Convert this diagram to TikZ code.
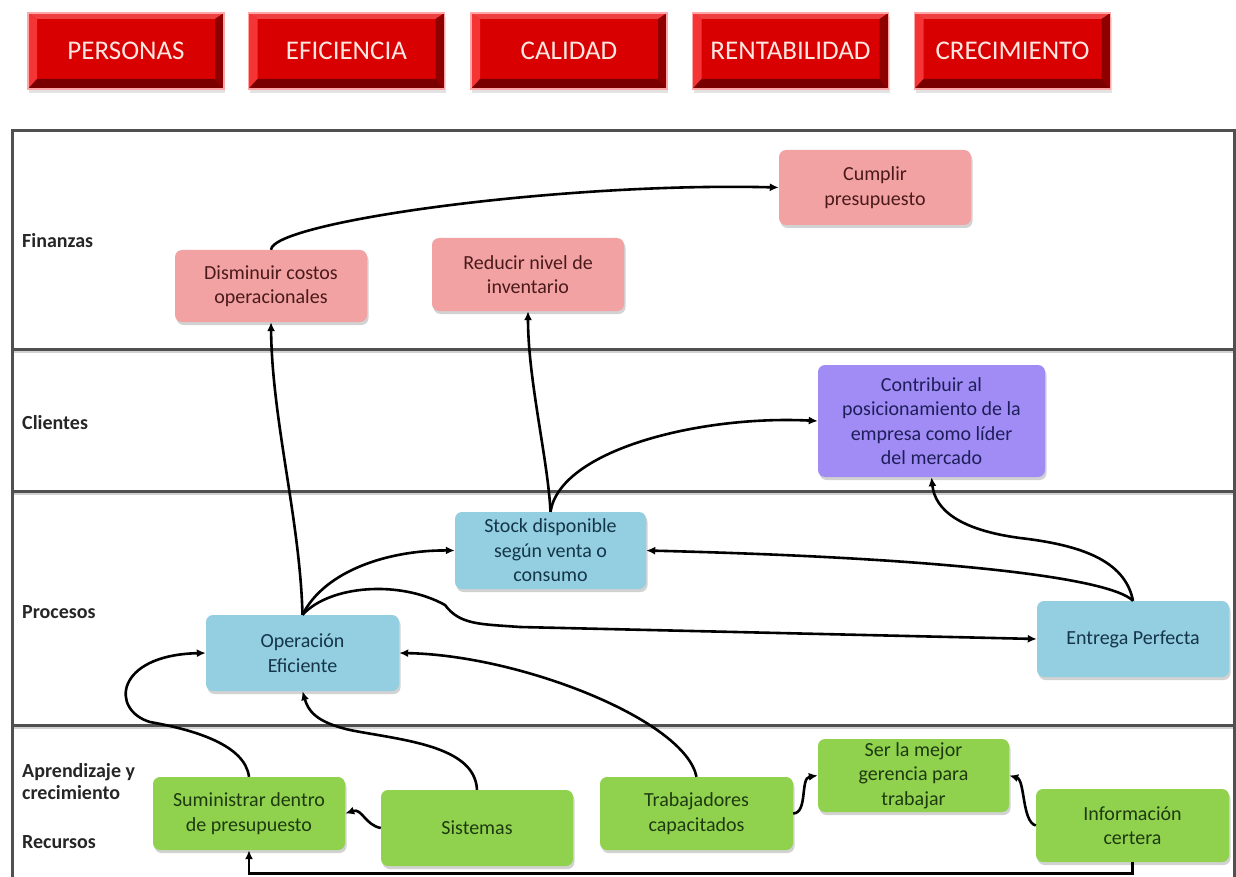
\documentclass[tikz,border=0pt]{standalone}
\usepackage{fontspec}
\setmainfont{Carlito}
\usetikzlibrary{arrows.meta,shadows,calc}

\definecolor{btnface}{HTML}{D80000}
\definecolor{btnlight}{HTML}{F53535}
\definecolor{btntop}{HTML}{EE4040}
\definecolor{btndark}{HTML}{7A0000}
\definecolor{btnright}{HTML}{8E0000}
\definecolor{btntext}{HTML}{FFE6E0}
\definecolor{finfill}{HTML}{F2A2A2}
\definecolor{fintext}{HTML}{4A1A1A}
\definecolor{clifill}{HTML}{A08CF4}
\definecolor{clitext}{HTML}{1E1E5A}
\definecolor{profill}{HTML}{93CFE1}
\definecolor{protext}{HTML}{153549}
\definecolor{apfill}{HTML}{90D24E}
\definecolor{aptext}{HTML}{1E3A10}
\definecolor{lanecol}{HTML}{505050}

\tikzset{
  btn/.style={minimum width=196pt, minimum height=76pt, inner sep=0pt,
    font=\fontsize{27}{30}\selectfont, text=btntext, fill=btnface,
    draw=red!35, line width=1.2pt,
    drop shadow={shadow xshift=1pt, shadow yshift=-4pt, opacity=0.22},
    path picture={
      \fill[btntop] (path picture bounding box.north west) -- (path picture bounding box.north east)
        -- ([xshift=-9pt,yshift=-6pt]path picture bounding box.north east)
        -- ([xshift=9pt,yshift=-6pt]path picture bounding box.north west) -- cycle;
      \fill[btnlight] (path picture bounding box.north west)
        -- ([xshift=9pt,yshift=-6pt]path picture bounding box.north west)
        -- ([xshift=9pt,yshift=10pt]path picture bounding box.south west)
        -- (path picture bounding box.south west) -- cycle;
      \fill[btndark] (path picture bounding box.south west) -- (path picture bounding box.south east)
        -- ([xshift=-9pt,yshift=10pt]path picture bounding box.south east)
        -- ([xshift=9pt,yshift=10pt]path picture bounding box.south west) -- cycle;
      \fill[btnright] (path picture bounding box.north east)
        -- ([xshift=-9pt,yshift=-6pt]path picture bounding box.north east)
        -- ([xshift=-9pt,yshift=10pt]path picture bounding box.south east)
        -- (path picture bounding box.south east) -- cycle;
    }},
  box/.style={rounded corners=7pt, minimum width=192pt, minimum height=74pt,
    inner sep=1pt, align=center, font=\fontsize{20}{24.5}\selectfont,
    drop shadow={shadow xshift=1.5pt, shadow yshift=-3pt, opacity=0.35}},
  fin/.style={box, fill=finfill, text=fintext},
  cli/.style={box, fill=clifill, text=clitext},
  pro/.style={box, fill=profill, text=protext},
  apr/.style={box, fill=apfill, text=aptext},
  lanelabel/.style={anchor=west, inner sep=0pt, align=left,
    font=\bfseries\fontsize{20}{22}\selectfont, text=black!85},
  laneline/.style={draw=lanecol, line width=3pt},
  laneshade/.style={draw=black!18, line width=2.5pt},
  conn/.style={-{Latex[length=9pt,width=8pt]}, line width=2.6pt, black}
}

\begin{document}
\begin{tikzpicture}[x=1pt,y=-1pt]
\useasboundingbox (0,0) rectangle (1236,877);
\fill[white] (0,0) rectangle (1236,877);

% perspective buttons
\node[btn] (bp) at (126,51)    {PERSONAS};
\node[btn] (be) at (346.5,51)  {EFICIENCIA};
\node[btn] (bc) at (569,51)    {CALIDAD};
\node[btn] (br) at (790.5,51)  {RENTABILIDAD};
\node[btn] (bk) at (1012.5,51) {CRECIMIENTO};

% swimlanes
\foreach \yy in {352,494,728} \draw[laneshade] (14,\yy) -- (1233,\yy);
\draw[laneline] (12,877) -- (12,131) -- (1234,131) -- (1234,877);
\foreach \yy in {349,491,725} \draw[laneline] (12,\yy) -- (1234,\yy);

\node[lanelabel] (lfin) at (22,241) {Finanzas};
\node[lanelabel] (lcli) at (22,423) {Clientes};
\node[lanelabel] (lpro) at (22,612) {Procesos};
\node[lanelabel] (lapr) at (22,782) {Aprendizaje y\\crecimiento};
\node[lanelabel] (lrec) at (22,842) {Recursos};

% objectives
\node[fin, minimum height=75pt] (cum) at (875,187.5) {Cumplir\\presupuesto};
\node[fin, minimum height=72pt] (dim) at (271,286) {Disminuir costos\\operacionales};
\node[fin, minimum height=73pt] (red) at (528,274.5) {Reducir nivel de\\inventario};
\node[cli, minimum width=227pt, minimum height=112pt] (con) at (931.5,421)
  {Contribuir al\\posicionamiento de la\\empresa como líder\\del mercado};
\node[pro, minimum width=191pt, minimum height=77pt] (sto) at (550.5,550.5)
  {Stock disponible\\según venta o\\consumo};
\node[pro, minimum width=193pt, minimum height=76pt] (ope) at (302.5,653) {Operación\\Eficiente};
\node[pro, minimum height=76pt] (ent) at (1133,639) {Entrega Perfecta};
\node[apr, minimum height=73pt] (sum) at (249,813.5) {Suministrar dentro\\de presupuesto};
\node[apr, minimum height=76pt] (sis) at (477,828) {Sistemas};
\node[apr, minimum width=193pt, minimum height=73pt] (tra) at (696.5,813.5) {Trabajadores\\capacitados};
\node[apr, minimum width=191pt, minimum height=73pt] (ser) at (913.5,775.5) {Ser la mejor\\gerencia para\\trabajar};
\node[apr, minimum width=193pt, minimum height=73pt] (inf) at (1132.5,825.5) {Información\\certera};

% cause-effect links
\draw[conn] (dim.north) .. controls (272,222) and (560,182) .. (cum.west);
\draw[conn] (ope.north) .. controls (300,520) and (272,420) .. (dim.south);
\draw[conn] (sto.north) .. controls (548,460) and (528,380) .. (red.south);
\draw[conn] (sto.north) .. controls (560,450) and (700,415) .. (con.west);
\draw[conn] (ope.north) .. controls (325,570) and (390,550) .. (sto.west);
\draw[conn] (ope.north) .. controls (330,585) and (400,580) .. (445,605)
  .. controls (460,625) and (480,624) .. (520,627) -- (ent.west);
\draw[conn] (ent.north) .. controls (1110,578) and (950,558) .. (sto.east);
\draw[conn] (ent.north) .. controls (1125,560) and (1080,545) .. (1020,538)
  .. controls (960,530) and (935,510) .. (con.south);
\draw[conn] (sum.north) .. controls (245,745) and (195,730) .. (150,722)
  .. controls (110,710) and (115,655) .. (ope.west);
\draw[conn] (sis.north) .. controls (475,745) and (400,740) .. (350,730)
  .. controls (315,722) and (308,710) .. (ope.south);
\draw[conn] (tra.north) .. controls (685,720) and (520,655) .. (ope.east);
\draw[conn] (sis.west) .. controls (365,825) and (362,808) .. (sum.east);
\draw[conn] (tra.east) .. controls (808,813) and (800,778) .. (ser.west);
\draw[conn] (inf.west) .. controls (1022,822) and (1025,780) .. (ser.east);
\draw[conn] (inf.south) -- ++(0,11) -| (sum.south);
\end{tikzpicture}
\end{document}
